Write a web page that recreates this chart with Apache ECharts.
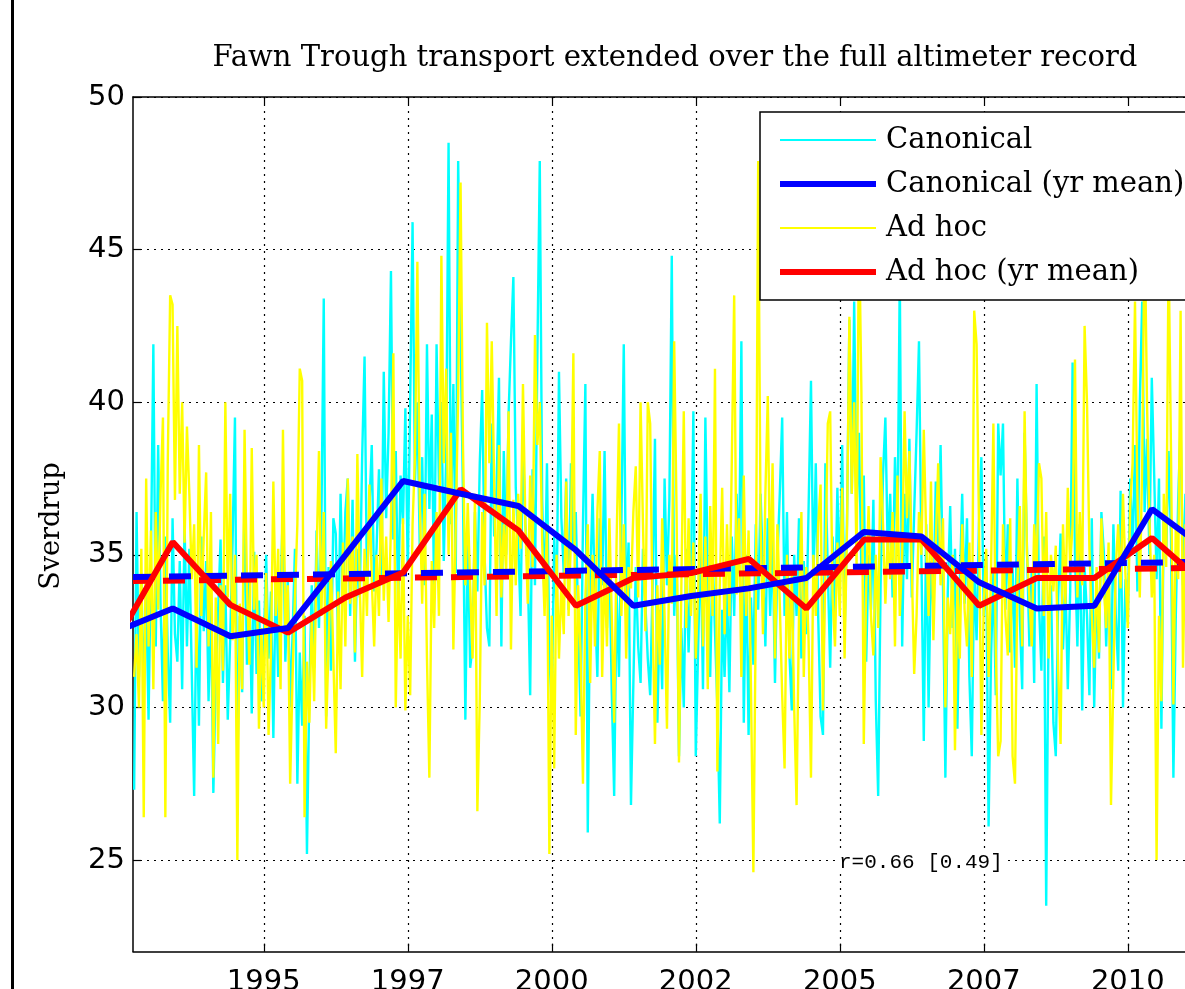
<!DOCTYPE html>
<html>
<head>
<meta charset="utf-8">
<title>Fawn Trough transport</title>
<script src="https://cdn.jsdelivr.net/npm/echarts@6.0.0/dist/echarts.min.js"></script>
<style>
  html, body { margin: 0; padding: 0; background: #fff; }
  #chart { width: 1185px; height: 989px; }
</style>
</head>
<body>
<div id="chart"></div>
<script>
// Sampling of the altimeter-derived transport series (decimal years)
const SAMPLE_START = 1992.75;
const SAMPLE_STEP = 1 / 24;

// Canonical transport estimate (Sv)
const CANONICAL = [
  27.3, 36.4, 31.0, 34.2, 30.5, 33.8,
  29.6, 35.0, 41.9, 32.0, 38.6, 33.4,
  30.2, 35.6, 31.8, 29.5, 36.2, 32.4,
  31.5, 34.8, 30.6, 36.0, 32.0, 35.2,
  31.2, 27.1, 33.8, 29.4, 35.6, 32.5,
  34.8, 30.2, 33.5, 27.2, 31.0, 33.2,
  35.5, 30.8, 34.0, 29.6, 32.2, 35.4,
  39.5, 27.9, 33.0, 30.5, 37.1, 31.4,
  34.2, 29.8, 35.1, 31.1, 33.5, 30.2,
  32.0, 35.0, 31.6, 33.8, 29.0, 34.4,
  31.0, 33.6, 36.7, 31.5, 34.2, 30.0,
  32.4, 35.2, 27.5, 31.8, 29.4, 33.0,
  25.2, 30.6, 34.0, 31.3, 35.8, 32.6,
  36.0, 43.4, 29.7, 34.6, 31.2, 36.2,
  35.7, 32.0, 37.0, 33.4, 36.4, 37.5,
  33.0, 36.8, 31.5, 35.2, 33.6, 38.2,
  41.5, 34.0, 36.5, 38.6, 33.8, 35.2,
  37.8, 34.0, 41.0, 36.2, 39.0, 44.3,
  35.5, 38.4, 33.2, 37.6, 36.0, 39.8,
  34.5, 40.0, 45.9, 37.4, 40.0, 35.2,
  38.2, 34.0, 41.9, 36.5, 39.6, 33.6,
  41.9, 37.3, 40.0, 34.8, 38.2, 48.5,
  36.0, 40.6, 34.4, 47.9, 42.2, 37.0,
  29.6, 35.8, 31.3, 32.0, 36.4, 33.8,
  38.0, 40.4, 35.0, 32.6, 32.0, 39.3,
  35.6, 37.2, 40.8, 32.0, 38.4, 35.0,
  39.6, 42.0, 44.1, 37.2, 35.4, 33.0,
  38.6, 36.0, 34.6, 30.4, 37.8, 34.0,
  41.5, 47.9, 36.8, 33.4, 38.0, 31.7,
  29.9, 35.6, 33.0, 41.0, 36.2, 34.4,
  37.5, 33.2, 38.0, 35.2, 36.4, 32.8,
  29.7, 36.0, 40.6, 25.9, 34.0, 37.0,
  33.5, 31.0, 36.2, 34.0, 38.4, 32.6,
  35.0, 30.5, 27.1, 33.8, 31.0, 36.0,
  41.9, 33.0, 35.4, 26.8, 30.8, 34.6,
  32.0, 30.8, 35.2, 33.4, 31.6, 30.4,
  34.0, 38.8, 29.5, 33.2, 30.6, 37.5,
  34.0, 36.8, 44.8, 33.0, 35.0, 28.4,
  32.6, 30.0, 35.2, 31.8, 34.4, 39.7,
  28.4, 32.0, 35.6, 30.6, 39.5, 34.2,
  31.0, 35.0, 32.5, 30.0, 26.2, 33.2,
  31.0, 33.9, 30.5, 35.6, 33.0, 37.0,
  34.4, 42.0, 29.5, 35.0, 29.1, 33.6,
  31.4, 36.0, 33.2, 37.0, 34.5, 32.0,
  36.2, 33.0, 35.5, 30.8, 34.8, 37.0,
  39.5, 33.0, 36.4, 31.8, 29.9, 35.0,
  33.0, 36.2, 31.6, 34.8, 32.4, 36.5,
  40.7, 34.0, 38.0, 33.0, 29.7, 29.1,
  38.0, 34.5, 31.3, 35.6, 33.0, 37.2,
  34.0, 38.6, 32.4, 36.0, 42.7, 37.0,
  43.3, 36.4, 39.0, 34.4, 37.6, 31.5,
  35.0, 33.2, 36.8, 30.2, 27.1, 34.0,
  37.6, 39.5, 35.0, 37.0, 33.6, 38.2,
  35.4, 44.2, 32.0, 37.0, 34.2, 38.8,
  33.6, 36.4, 39.0, 42.0, 35.0, 28.9,
  36.0, 30.0, 34.8, 33.2, 37.4, 35.0,
  38.6, 34.0, 27.7, 33.8, 36.6, 32.6,
  35.2, 29.3, 34.0, 37.0, 33.4, 36.2,
  31.0, 28.4, 34.6, 32.2, 36.0, 38.2,
  33.0, 35.0, 26.1, 31.6, 34.4, 30.4,
  39.3, 37.6, 39.3, 33.2, 36.0, 31.8,
  34.6, 31.3, 37.5, 33.0, 30.6, 39.0,
  35.2, 32.0, 34.6, 30.8, 40.6, 33.4,
  31.2, 35.6, 23.5, 32.8, 34.0, 29.5,
  28.4, 33.6, 35.7, 31.9, 34.2, 30.6,
  33.8, 41.3, 35.0, 32.0, 36.0, 29.9,
  34.6, 33.0, 30.4, 36.2, 30.0, 34.0,
  31.6, 36.4, 35.1, 32.0, 34.8, 30.6,
  36.0, 33.0, 31.2, 37.1, 30.0, 34.2,
  32.8, 37.5, 35.0, 38.6, 33.8, 40.0,
  43.3, 36.4, 38.8, 35.0, 40.8, 37.6,
  34.2, 37.5, 29.3, 36.4, 35.0, 38.4,
  35.6, 27.7, 33.0, 36.8, 39.3, 34.0,
  37.0, 33.4, 36.0
];

// Ad hoc transport estimate (Sv)
const AD_HOC = [
  31.0, 32.4, 30.0, 35.2, 26.4, 37.5,
  32.0, 35.8, 30.6, 36.4, 33.2, 37.0,
  39.5, 26.4, 38.0, 43.5, 43.2, 36.8,
  42.5, 37.0, 40.0, 35.4, 39.2, 37.0,
  34.2, 36.0, 31.3, 38.6, 33.0, 35.6,
  37.7, 32.0, 36.4, 27.7, 33.6, 28.8,
  34.0, 31.2, 40.0, 33.6, 37.0, 32.2,
  35.0, 25.0, 33.4, 30.6, 39.1, 34.0,
  31.4, 38.5, 33.2, 35.0, 29.3, 32.6,
  30.0, 34.4, 29.1, 31.8, 37.4, 33.0,
  35.2, 30.6, 39.1, 32.4, 34.0, 27.5,
  31.0, 33.6, 36.0, 41.1, 40.7, 26.4,
  31.5, 29.5, 33.0, 30.2, 35.0, 38.4,
  33.0, 36.4, 29.3, 32.0, 34.8, 31.6,
  28.5, 33.8, 30.6, 35.4, 32.0, 37.5,
  33.4, 35.6, 31.8, 38.3, 34.0, 31.0,
  35.2, 33.0, 37.3, 34.2, 32.0, 35.0,
  33.0, 37.5, 33.5, 35.6, 32.8, 36.0,
  41.6, 30.0, 34.4, 31.6, 36.2, 29.9,
  33.0, 30.4, 36.0, 38.2, 44.6, 36.8,
  33.4, 37.0, 31.6, 27.7, 34.8, 32.6,
  36.4, 33.0, 44.8, 38.0, 41.1, 35.0,
  39.0, 31.9, 36.0, 40.2, 47.2, 38.6,
  34.0, 36.7, 34.0, 31.6, 37.0, 26.6,
  30.2, 36.4, 34.0, 42.6, 38.0, 42.0,
  37.4, 33.0, 38.6, 33.6, 36.0, 34.4,
  39.7, 31.9, 36.8, 34.0, 37.0, 35.2,
  40.6, 36.0, 33.4, 37.6, 34.6, 42.2,
  38.6, 40.0, 35.4, 33.0, 36.0, 25.2,
  33.0, 28.0, 35.0, 31.6, 34.0, 32.4,
  37.4, 33.0, 35.6, 41.6, 29.1, 34.0,
  31.8, 27.5, 33.6, 36.0, 30.8, 35.0,
  32.0, 36.4, 38.4, 31.0, 34.6, 32.0,
  36.2, 33.0, 29.5, 35.4, 39.3, 33.0,
  36.0, 31.6, 34.6, 33.9, 36.4, 37.9,
  33.6, 40.0, 36.0, 32.5, 40.0, 39.3,
  33.0, 28.8, 34.0, 31.4, 36.2, 33.0,
  29.3, 35.0, 33.4, 42.0, 36.4, 28.2,
  34.0, 39.7, 32.6, 36.2, 33.0, 35.4,
  31.6, 33.9, 37.0, 32.0, 35.6, 30.6,
  36.6, 33.0, 41.1, 27.9, 34.0, 37.2,
  32.4, 36.0, 33.0, 38.0, 43.5, 33.7,
  36.2, 31.0, 37.6, 33.0, 35.8, 30.6,
  24.6, 33.0, 47.9, 36.0, 32.4, 37.0,
  40.2, 34.0, 38.0, 31.6, 36.0, 33.4,
  30.4, 28.0, 35.0, 31.6, 34.4, 30.0,
  26.8, 33.0, 36.4, 31.0, 34.6, 32.2,
  27.7, 35.0, 33.0, 36.0, 37.3, 29.9,
  34.6, 39.3, 39.7, 33.6, 32.0, 35.4,
  33.0, 37.2, 31.6, 35.8, 42.8, 37.0,
  40.0, 34.6, 46.0, 40.4, 28.8, 34.0,
  36.6, 33.0, 31.7, 35.0, 32.6, 38.2,
  36.0, 33.4, 35.6, 34.2, 36.4, 32.0,
  37.6, 33.0, 35.0, 39.7, 36.2, 38.4,
  34.6, 31.1, 33.0, 36.4, 35.0, 39.1,
  35.6, 33.0, 37.4, 32.2, 35.4, 38.0,
  34.0, 36.2, 30.0, 33.6, 32.4, 35.0,
  28.6, 34.0, 31.6, 36.0, 33.2, 32.0,
  35.4, 31.0, 43.0, 41.9, 36.0, 29.1,
  33.4, 35.2, 31.0, 34.4, 39.3, 31.9,
  28.4, 28.9, 36.0, 33.0, 31.7, 36.2,
  28.4, 27.5, 34.0, 36.6, 32.0, 39.7,
  35.0, 33.6, 32.0, 36.0, 34.4, 38.0,
  37.5, 33.0, 36.4, 31.6, 35.0, 33.8,
  35.3, 31.2, 28.8, 36.0, 33.4, 37.2,
  34.6, 36.0, 41.4, 33.6, 36.4, 34.0,
  42.5, 40.0, 35.2, 33.0, 31.3, 34.6,
  31.8, 36.2, 34.0, 32.6, 35.4, 26.8,
  31.0, 34.6, 36.0, 33.9, 37.0, 34.4,
  32.6, 36.6, 38.0, 43.3, 37.0, 33.6,
  38.0, 46.0, 40.0, 36.2, 33.6, 35.0,
  25.0, 33.0, 30.2, 37.0, 34.6, 45.0,
  38.4, 30.1, 36.0, 34.2, 43.0, 31.3,
  36.0, 33.0, 35.0
];

// Annual means, placed at the mean sample time of each year
const YEAR_TIMES = [
  1992.42, 1993.42, 1994.42, 1995.42, 1996.42, 1997.42, 1998.42,
  1999.42, 2000.42, 2001.42, 2002.42, 2003.42, 2004.42, 2005.42,
  2006.42, 2007.42, 2008.42, 2009.42, 2010.42, 2011.42
];
const CANONICAL_YR = [
  32.47, 33.24, 32.33, 32.60, 35.00, 37.42, 37.00, 36.60, 35.15, 33.33,
  33.65, 33.90, 34.24, 35.75, 35.60, 34.10, 33.24, 33.33, 36.50, 35.10
];
const AD_HOC_YR = [
  32.10, 35.42, 33.36, 32.45, 33.60, 34.42, 37.15, 35.80, 33.33, 34.24,
  34.40, 34.87, 33.24, 35.50, 35.50, 33.33, 34.24, 34.24, 35.55, 33.90
];

// Linear trend values at the two ends of the time axis
const CANONICAL_TREND = [34.27, 34.79];
const AD_HOC_TREND = [34.14, 34.59];

// Axis layout
const X_RANGE = [1992.73, 2012];
const X_TICKS = [1995, 1997.5, 2000, 2002.5, 2005, 2007.5, 2010];
const Y_RANGE = [22, 50];
const Y_TICKS = [25, 30, 35, 40, 45, 50];

const sampled = vals => vals.map((v, i) => [SAMPLE_START + i * SAMPLE_STEP, v]);
const annual = vals => vals.map((v, i) => [YEAR_TIMES[i], v]);
const trend = ends => [[X_RANGE[0], ends[0]], [X_RANGE[1], ends[1]]];

const chart = echarts.init(document.getElementById('chart'), null, { renderer: 'canvas' });

const gridLine = { show: true, lineStyle: { color: '#000', width: 1.2, type: [2, 5] } };
const labelFont = { fontFamily: 'DejaVu Sans', fontSize: 29, color: '#000' };

chart.setOption({
  animation: false,
  backgroundColor: '#fff',
  // the axes run past the right edge of the figure
  grid: { left: 133, top: 97, width: 1110, height: 854.6, containLabel: false, outerBoundsMode: 'none' },
  xAxis: [
    {
      type: 'value', position: 'bottom', min: X_RANGE[0], max: X_RANGE[1],
      axisLine: { show: true, onZero: false, lineStyle: { color: '#000', width: 1.5 } },
      axisTick: { show: true, inside: true, length: 8, customValues: X_TICKS, lineStyle: { color: '#000', width: 1.2 } },
      axisLabel: Object.assign({ customValues: X_TICKS, margin: 16, formatter: v => String(Math.floor(v + 1e-9)) }, labelFont),
      splitLine: gridLine
    },
    {
      type: 'value', position: 'top', min: X_RANGE[0], max: X_RANGE[1],
      axisLine: { show: true, onZero: false, lineStyle: { color: '#000', width: 1.5 } },
      axisTick: { show: true, inside: true, length: 7, customValues: X_TICKS, lineStyle: { color: '#000', width: 1.2 } },
      axisLabel: { show: false },
      splitLine: { show: false }
    }
  ],
  yAxis: {
    type: 'value', min: Y_RANGE[0], max: Y_RANGE[1],
    axisLine: { show: true, onZero: false, lineStyle: { color: '#000', width: 1.5 } },
    axisTick: { show: true, inside: true, length: 8, customValues: Y_TICKS, lineStyle: { color: '#000', width: 1.2 } },
    axisLabel: Object.assign({ customValues: Y_TICKS, margin: 8 }, labelFont),
    splitLine: gridLine
  },
  legend: {
    orient: 'vertical', left: 760, top: 112,
    padding: [13, 40, 13, 17],
    itemWidth: 96, itemHeight: 20, itemGap: 14,
    backgroundColor: '#fff', borderColor: '#000', borderWidth: 1.5, borderRadius: 0,
    selectedMode: false,
    itemStyle: { opacity: 0 },
    textStyle: { fontFamily: 'DejaVu Serif', fontSize: 29, color: '#000', lineHeight: 30, padding: [0, 0, 0, 5] },
    data: [
      { name: 'Canonical', lineStyle: { width: 2 } },
      { name: 'Canonical (yr mean)', lineStyle: { width: 6 } },
      { name: 'Ad hoc', lineStyle: { width: 2 } },
      { name: 'Ad hoc (yr mean)', lineStyle: { width: 6 } }
    ]
  },
  series: [
    {
      name: 'Canonical', type: 'line', data: sampled(CANONICAL), color: '#00ffff',
      symbol: 'none', lineStyle: { width: 2.4 }, z: 2
    },
    {
      name: 'Ad hoc', type: 'line', data: sampled(AD_HOC), color: '#ffff00',
      symbol: 'none', lineStyle: { width: 2.4 }, z: 2
    },
    {
      name: 'Ad hoc trend', type: 'line', data: trend(AD_HOC_TREND), color: '#ff0000',
      symbol: 'none', lineStyle: { width: 6, type: [22, 14], dashOffset: 6 }, z: 3
    },
    {
      name: 'Canonical trend', type: 'line', data: trend(CANONICAL_TREND), color: '#0000ff',
      symbol: 'none', lineStyle: { width: 6, type: [22, 14] }, z: 3
    },
    {
      name: 'Ad hoc (yr mean)', type: 'line', data: annual(AD_HOC_YR), color: '#ff0000',
      symbol: 'none', lineStyle: { width: 6 }, z: 4
    },
    {
      name: 'Canonical (yr mean)', type: 'line', data: annual(CANONICAL_YR), color: '#0000ff',
      symbol: 'none', lineStyle: { width: 6 }, z: 4
    }
  ],
  graphic: [
    {
      type: 'line', shape: { x1: 12.5, y1: 0, x2: 12.5, y2: 989 },
      style: { stroke: '#000', lineWidth: 3 }
    },
    {
      type: 'text', x: 675, y: 58,
      style: { text: 'Fawn Trough transport extended over the full altimeter record',
               font: '29px "DejaVu Serif"', fill: '#000', align: 'center', verticalAlign: 'middle' }
    },
    {
      type: 'text', x: 52, y: 526, rotation: Math.PI / 2,
      style: { text: 'Sverdrup', font: '27px "DejaVu Serif"', fill: '#000', align: 'center', verticalAlign: 'middle' }
    },
    {
      type: 'text', x: 837, y: 862, z: 10,
      style: { text: 'r=0.66 [0.49]', font: '21px "Liberation Mono"', fill: '#000',
               backgroundColor: '#fff', align: 'left', verticalAlign: 'middle', padding: [1, 2] }
    }
  ]
});
</script>
</body>
</html>
